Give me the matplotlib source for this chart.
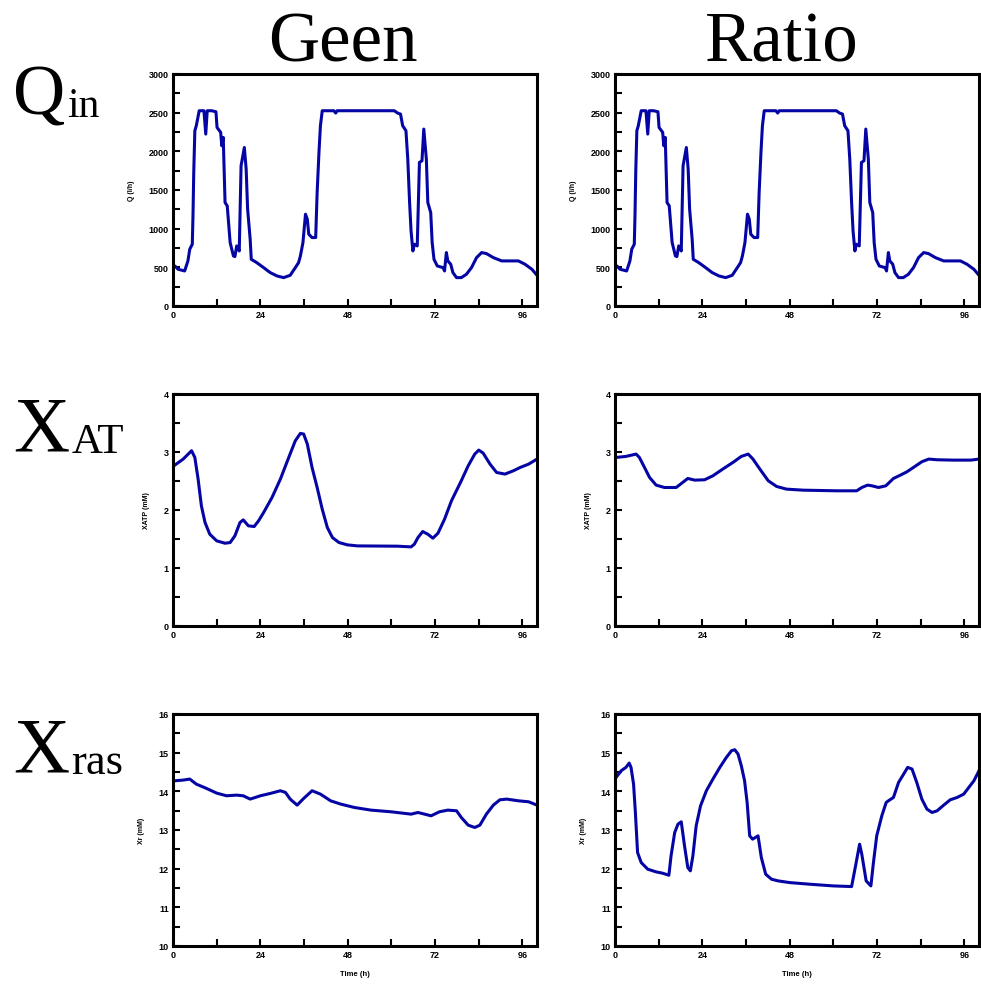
import numpy as np
import matplotlib
matplotlib.use('Agg')
import matplotlib.pyplot as plt
from matplotlib.ticker import MultipleLocator

plt.rcParams['font.family'] = ['Liberation Sans', 'DejaVu Sans']

# --- data ---
# Q_in (same input in both columns)
t_q = [0, 0.5, 1.4, 3.2, 4.1, 4.6, 5.3, 5.5, 5.7, 6.0, 6.4, 7.2, 8.5, 9.0, 9.4, 10.6, 11.8, 12.1,
       13.1, 13.4, 13.8, 14.3, 14.9, 15.7, 16.6, 17.0, 17.5, 18.2, 18.7, 19.6, 20.1, 20.5, 21.2,
       21.5, 23.0, 24.9, 26.7, 28.6, 30.4, 32.2, 33.6, 34.5, 35.0, 35.7, 36.4, 36.9, 37.3, 38.2,
       39.2, 39.6, 40.1, 40.5, 41.0, 44.2, 44.7, 45.1, 60.8, 61.7, 62.5, 63.1, 64.0, 64.5, 65.0,
       65.4, 65.9, 66.3, 67.1, 67.7, 68.4, 68.9, 69.6, 70.0, 70.8, 71.2, 71.7, 72.6, 74.2, 74.6,
       75.1, 75.5, 76.3, 76.9, 77.9, 79.2, 80.6, 82.0, 83.4, 84.8, 86.1, 88.0, 90.3, 94.9, 96.7,
       98.6, 100]
q_in = [520, 518, 475, 453, 583, 734, 799, 1187, 1727, 2266, 2331, 2525, 2525, 2223, 2525, 2525,
        2512, 2309, 2245, 2072, 2180, 1338, 1295, 820, 647, 639, 777, 712, 1813, 2050, 1770, 1252,
        863, 604, 561, 496, 432, 388, 367, 397, 496, 561, 647, 820, 1187, 1122, 928, 885, 885,
        1468, 1986, 2331, 2525, 2525, 2495, 2525, 2525, 2495, 2482, 2331, 2266, 1899, 1338, 971,
        712, 799, 777, 1856, 1878, 2288, 1899, 1338, 1209, 820, 604, 518, 496, 453, 691, 583, 540,
        432, 367, 367, 410, 496, 626, 691, 678, 626, 583, 583, 540, 475, 397]

# X_AT
t_at_geen = [0, 0.5, 2.8, 5.1, 6.0, 6.9, 7.8, 8.8, 10.1, 12.0, 14.3, 15.7, 17.0, 18.4, 19.3, 20.7,
             22.3, 23.5, 24.9, 27.2, 29.5, 31.8, 33.6, 35.0, 35.9, 36.9, 38.2, 39.6, 41.0, 42.4,
             43.8, 45.6, 47.9, 50.7, 61.7, 65.4, 66.3, 67.3, 68.6, 70.0, 71.4, 72.8, 74.6, 76.5,
             79.2, 81.1, 82.9, 84.0, 85.2, 87.1, 88.9, 91.2, 93.5, 95.4, 97.7, 100]
x_at_geen = [2.75, 2.774, 2.878, 3.022, 2.906, 2.532, 2.072, 1.784, 1.583, 1.468, 1.427, 1.439,
             1.554, 1.784, 1.830, 1.727, 1.715, 1.813, 1.957, 2.216, 2.532, 2.906, 3.194, 3.321,
             3.309, 3.137, 2.734, 2.388, 2.014, 1.698, 1.525, 1.439, 1.399, 1.381, 1.376, 1.364,
             1.410, 1.525, 1.629, 1.583, 1.514, 1.600, 1.842, 2.158, 2.504, 2.763, 2.964, 3.033,
             2.981, 2.791, 2.647, 2.619, 2.676, 2.734, 2.791, 2.878]
t_at_ratio = [0, 0.3, 3.0, 5.8, 6.7, 8.1, 9.5, 11.3, 13.6, 16.8, 18.6, 20.0, 21.9, 24.6, 26.9, 29.6,
              32.4, 34.7, 36.6, 37.9, 39.8, 42.1, 44.4, 47.1, 51.7, 60.9, 66.4, 67.8, 69.4, 70.6,
              72.4, 74.4, 76.5, 78.4, 80.2, 82.0, 84.3, 86.2, 88.5, 93.1, 97.7, 100]
x_at_ratio = [2.90, 2.906, 2.924, 2.964, 2.906, 2.734, 2.561, 2.429, 2.388, 2.388, 2.475, 2.544,
              2.515, 2.521, 2.590, 2.705, 2.820, 2.924, 2.964, 2.878, 2.705, 2.504, 2.406, 2.360,
              2.342, 2.331, 2.331, 2.388, 2.429, 2.417, 2.388, 2.417, 2.544, 2.601, 2.659, 2.734,
              2.832, 2.878, 2.866, 2.860, 2.860, 2.878]

# X_ras
t_ras_geen = [0, 0.5, 2.8, 4.6, 6.4, 9.2, 12.0, 14.7, 17.5, 19.3, 21.2, 24.0, 26.7, 29.5, 30.9,
              32.2, 34.1, 35.9, 38.2, 40.5, 43.3, 46.1, 49.8, 54.4, 59.9, 65.4, 67.3, 69.1, 70.9,
              73.2, 75.5, 77.9, 79.2, 81.1, 82.9, 84.3, 86.1, 88.0, 89.8, 91.7, 94.9, 97.7, 100]
x_ras_geen = [14.26, 14.273, 14.291, 14.317, 14.187, 14.075, 13.954, 13.885, 13.902, 13.885,
              13.799, 13.885, 13.945, 14.015, 13.971, 13.799, 13.643, 13.816, 14.015, 13.928,
              13.755, 13.669, 13.583, 13.514, 13.471, 13.410, 13.453, 13.410, 13.367, 13.471,
              13.514, 13.497, 13.324, 13.125, 13.065, 13.125, 13.410, 13.643, 13.781, 13.799,
              13.755, 13.730, 13.643]
t_ras_ratio = [0, 0.3, 1.7, 3.0, 3.9, 4.4, 5.1, 5.6, 6.2, 7.2, 9.0, 11.3, 13.1, 14.8, 15.4, 16.4,
               17.3, 18.2, 19.1, 20.0, 20.7, 21.4, 22.3, 23.5, 25.1, 26.9, 28.8, 30.6, 32.0, 32.9,
               33.8, 34.7, 35.6, 36.3, 37.0, 37.8, 39.3, 40.2, 41.4, 43.0, 44.8, 48.0, 53.6, 60.0,
               65.0, 66.0, 67.2, 67.8, 69.0, 70.3, 71.0, 71.9, 73.3, 74.5, 75.1, 76.5, 77.9, 79.3,
               80.4, 81.6, 82.9, 84.3, 85.7, 87.1, 88.5, 90.3, 92.1, 94.0, 95.8, 97.2, 98.6, 100]
x_ras_ratio = [14.33, 14.360, 14.533, 14.619, 14.731, 14.619, 14.187, 13.453, 12.417, 12.158,
               11.986, 11.917, 11.882, 11.830, 12.331, 12.935, 13.151, 13.212, 12.590, 12.029,
               11.943, 12.331, 13.108, 13.626, 14.015, 14.317, 14.619, 14.878, 15.050, 15.076,
               14.964, 14.662, 14.273, 13.712, 12.849, 12.763, 12.849, 12.288, 11.856, 11.727,
               11.684, 11.640, 11.597, 11.554, 11.537, 12.029, 12.633, 12.374, 11.684, 11.554,
               12.158, 12.849, 13.367, 13.712, 13.755, 13.842, 14.230, 14.446, 14.619, 14.576,
               14.230, 13.799, 13.540, 13.453, 13.497, 13.643, 13.781, 13.842, 13.928, 14.101,
               14.273, 14.533]

col_titles = ['Geen', 'Ratio']
row_main = ['Q', 'X', 'X']
row_sub = ['in', 'AT', 'ras']
y_labels = ['Q (l/h)', 'XATP (mM)', 'Xr (mM)']
x_label = 'Time (h)'

W, H = 981, 995
fig = plt.figure(figsize=(W / 100, H / 100), dpi=100)

lefts = [173, 615]
tops = [75, 395, 715]
aw, ah = 364, 232

rows = [
    ((t_q, q_in), (t_q, q_in), (0, 3000), 500, 250),
    ((t_at_geen, x_at_geen), (t_at_ratio, x_at_ratio), (0, 4), 1, 0.5),
    ((t_ras_geen, x_ras_geen), (t_ras_ratio, x_ras_ratio), (10, 16), 1, 0.5),
]

for r, (d1, d2, ylim, ymaj, ymin_) in enumerate(rows):
    for c, d in enumerate([d1, d2]):
        ax = fig.add_axes([lefts[c] / W, 1 - (tops[r] + ah) / H, aw / W, ah / H])
        ax.plot(d[0], d[1], color='#0505a5', lw=2.2)
        ax.set_xlim(0, 100)
        ax.set_ylim(*ylim)
        ax.xaxis.set_major_locator(MultipleLocator(24))
        ax.xaxis.set_minor_locator(MultipleLocator(12))
        ax.yaxis.set_major_locator(MultipleLocator(ymaj))
        ax.yaxis.set_minor_locator(MultipleLocator(ymin_))
        ax.tick_params(which='both', direction='in', length=5, width=1.5,
                       top=False, right=False, labelsize=6.5, pad=3)
        for lab in ax.get_xticklabels() + ax.get_yticklabels():
            lab.set_fontweight('bold')
        for sp in ax.spines.values():
            sp.set_linewidth(2.2)
        ax.set_ylabel(y_labels[r], fontsize=5, fontweight='bold', labelpad=10)
        if r == 2:
            ax.set_xlabel(x_label, fontsize=5.5, fontweight='bold', labelpad=8)

serif = ['Liberation Serif', 'DejaVu Serif']
title_x = [343, 782]
for c, title in enumerate(col_titles):
    fig.text(title_x[c] / W, 1 - 62 / H, title, ha='center', va='baseline',
             fontsize=51, family=serif)

# row labels: big letter, then smaller text on the same baseline right after it
renderer = fig.canvas.get_renderer()
main_sizes = [52, 56, 56]
sub_sizes = [30, 31, 32]
baselines = [115, 451, 772]
for r in range(3):
    big = fig.text(13 / W, 1 - baselines[r] / H, row_main[r], ha='left', va='baseline',
                   fontsize=main_sizes[r], family=serif)
    x1 = big.get_window_extent(renderer).x1
    fig.text((x1 + 2) / W, 1 - (baselines[r] + 2) / H, row_sub[r], ha='left', va='baseline',
             fontsize=sub_sizes[r], family=serif)

fig.savefig('out.png', dpi=100)
